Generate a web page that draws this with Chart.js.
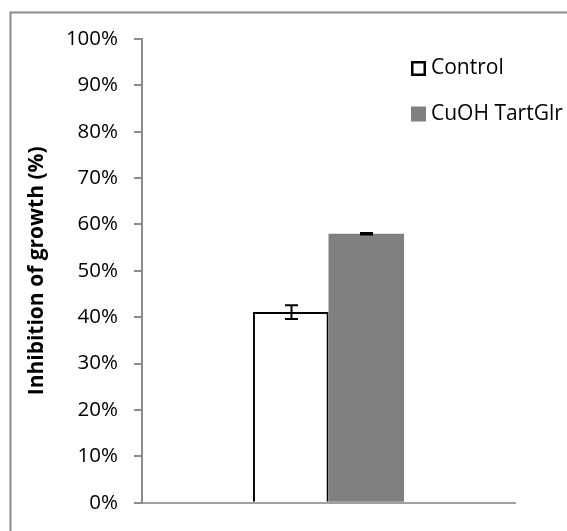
<!DOCTYPE html>
<html>
<head>
<meta charset="utf-8">
<script src="https://cdn.jsdelivr.net/npm/chart.js@4/dist/chart.umd.min.js"></script>
<style>
  html, body { margin: 0; padding: 0; background: #fff; }
  #wrap { width: 567px; height: 531px; position: relative; }
</style>
</head>
<body>
<div id="wrap"><canvas id="c" width="567" height="531"></canvas></div>
<script>
// Growth inhibition for a single group, two treatments
const categories = [''];
const seriesNames = ['Control', 'CuOH TartGlr'];
const controlValues = [41.1];
const controlErrors = [1.5];
const treatedValues = [58.0];
const treatedErrors = [0.15];
const yTicks = [0, 10, 20, 30, 40, 50, 60, 70, 80, 90, 100];

const FONT = '"Open Sans", "Liberation Sans", Arial, sans-serif';

// Light gray frame around the whole figure (open at right and bottom)
const framePlugin = {
  id: 'frame',
  beforeDraw(chart) {
    const ctx = chart.ctx;
    ctx.save();
    ctx.fillStyle = '#ffffff';
    ctx.fillRect(0, 0, chart.width, chart.height);
    ctx.strokeStyle = '#8c8c8c';
    ctx.lineWidth = 2;
    ctx.beginPath();
    ctx.moveTo(10.5, chart.height);
    ctx.lineTo(10.5, 12.5);
    ctx.lineTo(chart.width, 12.5);
    ctx.stroke();
    ctx.restore();
  }
};

// Vertical error bars with caps, drawn from the error arrays
const errorBarPlugin = {
  id: 'errorBars',
  afterDatasetsDraw(chart) {
    const ctx = chart.ctx;
    const y = chart.scales.y;
    const errs = [controlErrors, treatedErrors];
    ctx.save();
    ctx.strokeStyle = '#000';
    ctx.lineWidth = 2;
    chart.data.datasets.forEach((ds, di) => {
      const meta = chart.getDatasetMeta(di);
      meta.data.forEach((bar, i) => {
        const v = ds.data[i];
        const e = errs[di][i];
        const x = Math.round(bar.x) + 0.5;
        const yHi = y.getPixelForValue(v + e);
        const yLo = y.getPixelForValue(v - e);
        const cap = 6.5;
        ctx.beginPath();
        ctx.moveTo(x, yHi); ctx.lineTo(x, yLo);
        ctx.moveTo(x - cap, yHi); ctx.lineTo(x + cap, yHi);
        ctx.moveTo(x - cap, yLo); ctx.lineTo(x + cap, yLo);
        ctx.stroke();
      });
    });
    ctx.restore();
  }
};

// Legend at the upper right, built from the datasets
const legendPlugin = {
  id: 'sideLegend',
  afterDraw(chart) {
    const ctx = chart.ctx;
    const boxX = 411, boxSize = 15, rowY = [68.5, 114];
    ctx.save();
    ctx.font = '21px ' + FONT;
    ctx.textBaseline = 'middle';
    ctx.fillStyle = '#000';
    chart.data.datasets.forEach((ds, i) => {
      const cy = rowY[i];
      if (ds.borderWidth > 0) {
        ctx.fillStyle = ds.backgroundColor;
        ctx.fillRect(boxX + 1, cy - boxSize / 2 + 1, boxSize - 2, boxSize - 2);
        ctx.strokeStyle = ds.borderColor;
        ctx.lineWidth = 2.5;
        ctx.strokeRect(boxX + 1.25, cy - boxSize / 2 + 1.25, boxSize - 2.5, boxSize - 2.5);
      } else {
        ctx.fillStyle = ds.backgroundColor;
        ctx.fillRect(boxX, cy - boxSize / 2, boxSize, boxSize);
      }
      ctx.fillStyle = '#000';
      ctx.fillText(ds.label, boxX + 20, cy);
    });
    ctx.restore();
  }
};

new Chart(document.getElementById('c'), {
  type: 'bar',
  data: {
    labels: categories,
    datasets: [
      {
        label: seriesNames[0],
        data: controlValues,
        backgroundColor: '#ffffff',
        borderColor: '#000000',
        borderWidth: 2,
        borderSkipped: 'start'
      },
      {
        label: seriesNames[1],
        data: treatedValues,
        backgroundColor: '#808080',
        borderWidth: 0
      }
    ]
  },
  options: {
    responsive: false,
    animation: false,
    devicePixelRatio: 1,
    layout: { padding: { top: 39, right: 52, bottom: 22, left: 0 } },
    datasets: { bar: { categoryPercentage: 0.405, barPercentage: 1 } },
    plugins: { legend: { display: false }, tooltip: { enabled: false } },
    scales: {
      x: {
        grid: { display: false },
        border: { display: true, color: '#a0a0a0', width: 2 },
        ticks: { display: false },
        afterFit(scale) { scale.height = 0; }
      },
      y: {
        min: 0,
        max: 100,
        afterBuildTicks(scale) { scale.ticks = yTicks.map(v => ({ value: v })); },
        afterFit(scale) { scale.width = 142; },
        grid: { drawOnChartArea: false, drawTicks: true, tickLength: 8, color: '#8c8c8c', lineWidth: 2 },
        border: { display: true, color: '#8c8c8c', width: 2 },
        ticks: {
          padding: 16,
          color: '#000',
          font: { family: FONT, size: 20.5 },
          callback: v => v + '%'
        },
        title: {
          display: true,
          text: 'Inhibition of growth (%)',
          color: '#000',
          font: { family: FONT, size: 21, weight: 'bold' },
          padding: { top: 24, bottom: 0 }
        }
      }
    }
  },
  plugins: [framePlugin, errorBarPlugin, legendPlugin]
});
</script>
</body>
</html>
